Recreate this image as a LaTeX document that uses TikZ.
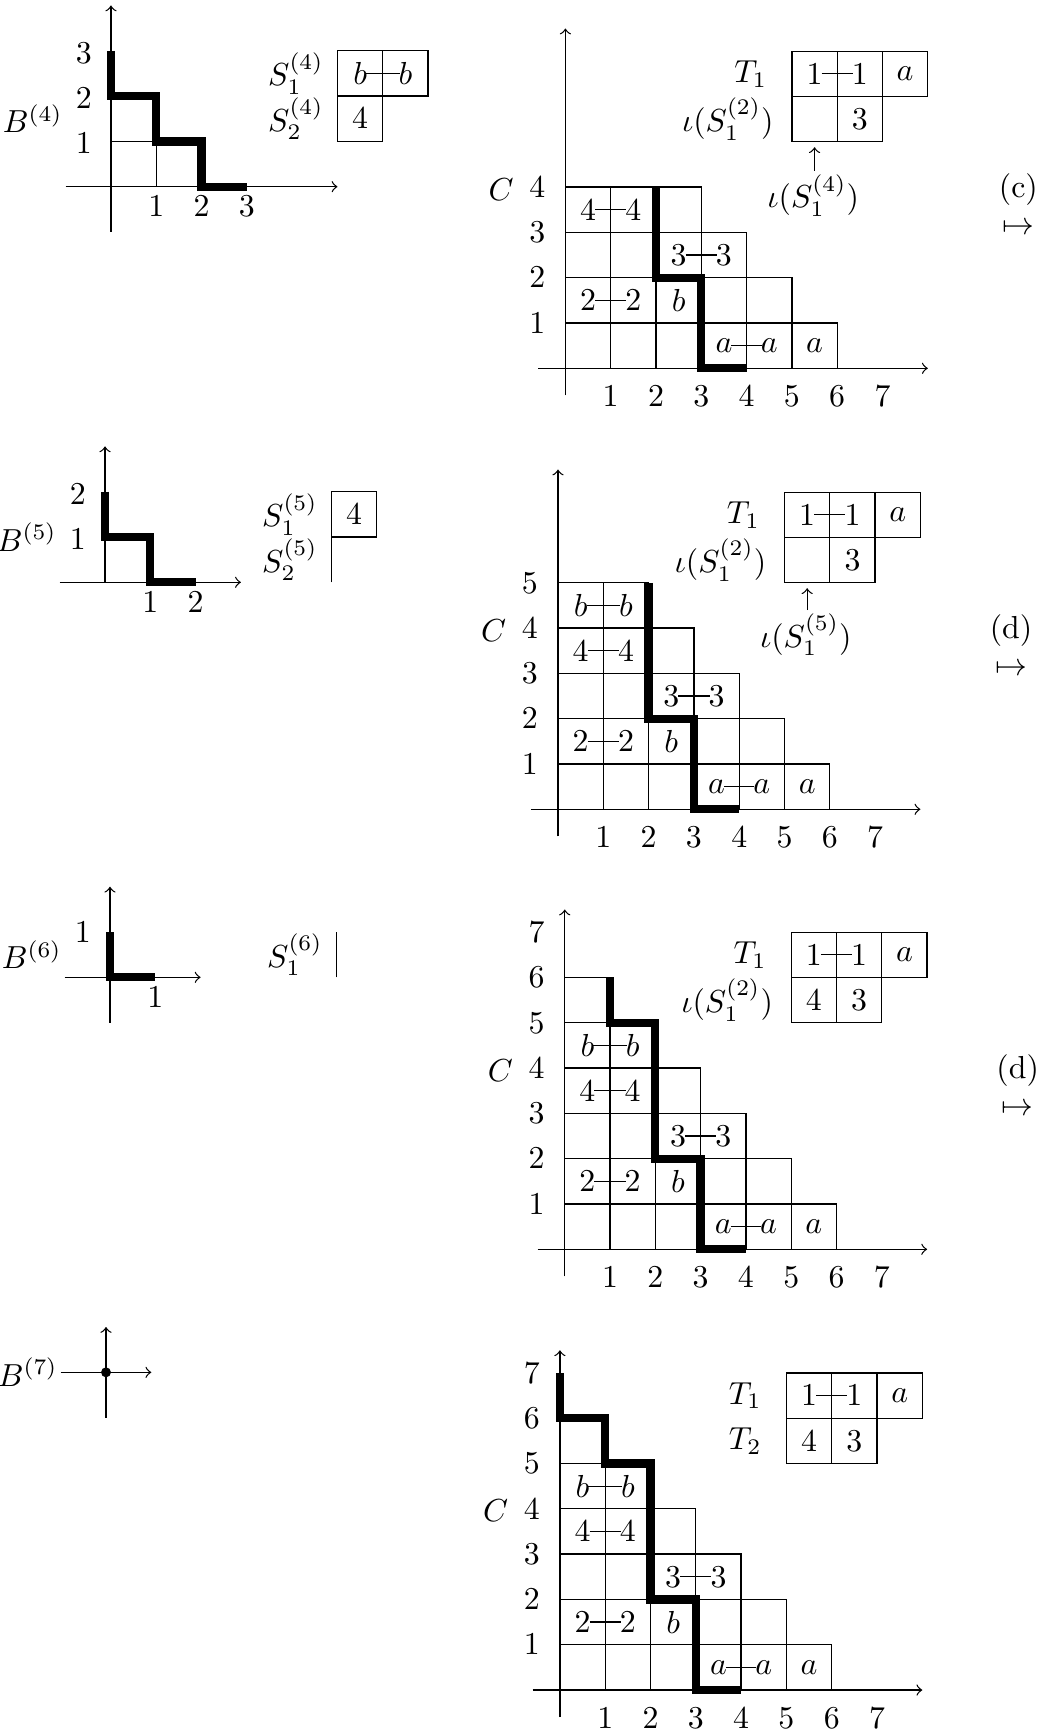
\documentclass[tikz,border=0pt]{standalone}
\usepackage{amsmath}
\tikzset{
  ax/.style={->, line width=0.4pt},
  stair/.style={line width=2.6pt},
  lab/.style={inner sep=0pt},
  link/.style={line width=0.4pt, shorten <=-0.5pt, shorten >=-0.5pt},
  uparrow/.style={->, line width=0.4pt, shorten <=1pt},
}
\newcommand\Row[2]{\foreach \c in {1,...,#2} {\draw (\c-1,#1) rectangle (\c,#1+1);}}
\newcommand\Cbody[1]{%
  \node[lab] (#1p1) at (0.5,3.5) {$4$};
  \node[lab] (#1p2) at (1.5,3.5) {$4$};
  \node[lab] (#1p3) at (2.5,2.5) {$3$};
  \node[lab] (#1p4) at (3.5,2.5) {$3$};
  \node[lab] (#1p5) at (0.5,1.5) {$2$};
  \node[lab] (#1p6) at (1.5,1.5) {$2$};
  \node[lab] (#1p7) at (2.5,1.5) {$b$};
  \node[lab] (#1p8) at (3.5,0.5) {$a$};
  \node[lab] (#1p9) at (4.5,0.5) {$a$};
  \node[lab] (#1p10) at (5.5,0.5) {$a$};
  \draw[link] (#1p1) -- (#1p2);
  \draw[link] (#1p3) -- (#1p4);
  \draw[link] (#1p5) -- (#1p6);
  \draw[link] (#1p8) -- (#1p9);
  \foreach \k in {1,...,7} {\node[lab] (#1x\k) at (\k,-0.62) {$\k$};}
  \node[lab] (#1C) at (-1.42,3.95) {$C$};
  \draw (5,6) rectangle (6,7) (6,6) rectangle (7,7) (7,6) rectangle (8,7)
        (5,5) rectangle (6,6) (6,5) rectangle (7,6);
  \node[lab] (#1t1) at (5.5,6.5) {$1$};
  \node[lab] (#1t2) at (6.5,6.5) {$1$};
  \node[lab] (#1t3) at (7.5,6.5) {$a$};
  \node[lab] (#1t4) at (6.5,5.5) {$3$};
  \draw[link] (#1t1) -- (#1t2);
  \node[lab,anchor=east] (#1T) at (4.47,6.5) {$T_1$};
}
\newcommand\Caxes{%
  \draw[ax] (0,-0.6) -- (0,7.5);
  \draw[ax] (-0.6,0) -- (8,0);
}
\begin{document}
\begin{tikzpicture}[x=0.5cm,y=0.5cm]
\useasboundingbox (0,0) rectangle (22.958,-38.256);

% ---------------- B4 ----------------
\begin{scope}[shift={(2.450,-4.121)}]
  \draw (0,1) -- (1,1) (1,0) -- (1,1);
  \draw[ax] (0,-1) -- (0,4);
  \draw[ax] (-1,0) -- (5,0);
  \draw[stair] (0,3) -- (0,2) -- (1,2) -- (1,1) -- (2,1) -- (2,0) -- (3,0);
  \foreach \k in {1,2,3} {
    \node[lab] (b4y\k) at (-0.6,\k-0.05) {$\k$};
    \node[lab] (b4x\k) at (\k,-0.44) {$\k$};
  }
  \node[lab,anchor=east] (B4) at (-1.05,1.5) {$B^{(4)}$};
  \draw (5,2) rectangle (6,3) (6,2) rectangle (7,3) (5,1) rectangle (6,2);
  \node[lab] (s4a) at (5.5,2.5) {$b$};
  \node[lab] (s4b) at (6.5,2.5) {$b$};
  \node[lab] (s4c) at (5.5,1.5) {$4$};
  \draw[link] (s4a) -- (s4b);
  \node[lab,anchor=east] (S41) at (4.71,2.5) {$S_1^{(4)}$};
  \node[lab,anchor=east] (S42) at (4.71,1.5) {$S_2^{(4)}$};
\end{scope}

% ---------------- C1 ----------------
\begin{scope}[shift={(12.481,-8.130)}]
  \Row{0}{6}\Row{1}{5}\Row{2}{4}\Row{3}{3}
  \Caxes
  \draw[stair] (2,4) -- (2,2) -- (3,2) -- (3,0) -- (4,0);
  \Cbody{ca}
  \foreach \k in {1,...,4} {\node[lab] (cay\k) at (-0.62,\k) {$\k$};}
  \node[lab,anchor=east] (caI) at (4.61,5.5) {$\iota(S_1^{(2)})$};
  \node[lab] (cai) at (5.47,3.82) {$\iota(S_1^{(4)})$};
  \coordinate (catb) at (5.5,4.88);
  \draw[uparrow] (cai.north -| catb) -- (catb);
  \node[lab] (calab) at (10,3.95) {(c)};
  \node[lab] (camap) at (10,3.08) {$\mapsto$};
\end{scope}

% ---------------- B5 ----------------
\begin{scope}[shift={(2.318,-12.854)}]
  \draw[ax] (0,0) -- (0,3);
  \draw[ax] (-1,0) -- (3,0);
  \draw[stair] (0,2) -- (0,1) -- (1,1) -- (1,0) -- (2,0);
  \foreach \k in {1,2} {
    \node[lab] (b5y\k) at (-0.6,\k-0.05) {$\k$};
    \node[lab] (b5x\k) at (\k,-0.44) {$\k$};
  }
  \node[lab,anchor=east] (B5) at (-1.05,1) {$B^{(5)}$};
  \draw (5,1) rectangle (6,2);
  \draw (5,0) -- (5,1);
  \node[lab] (s5a) at (5.5,1.5) {$4$};
  \node[lab,anchor=east] (S51) at (4.71,1.5) {$S_1^{(5)}$};
  \node[lab,anchor=east] (S52) at (4.71,0.5) {$S_2^{(5)}$};
\end{scope}

% ---------------- C2 ----------------
\begin{scope}[shift={(12.318,-17.865)}]
  \Row{0}{6}\Row{1}{5}\Row{2}{4}\Row{3}{3}\Row{4}{2}
  \Caxes
  \draw[stair] (2,5) -- (2,2) -- (3,2) -- (3,0) -- (4,0);
  \Cbody{cb}
  \node[lab] (cbq1) at (0.5,4.5) {$b$};
  \node[lab] (cbq2) at (1.5,4.5) {$b$};
  \draw[link] (cbq1) -- (cbq2);
  \foreach \k in {1,...,5} {\node[lab] (cby\k) at (-0.62,\k) {$\k$};}
  \node[lab,anchor=east] (cbI) at (4.61,5.5) {$\iota(S_1^{(2)})$};
  \node[lab] (cbi) at (5.47,3.85) {$\iota(S_1^{(5)})$};
  \coordinate (cbtb) at (5.5,4.88);
  \draw[uparrow] (cbi.north -| cbtb) -- (cbtb);
  \node[lab] (cblab) at (10,3.95) {(d)};
  \node[lab] (cbmap) at (10,3.08) {$\mapsto$};
\end{scope}

% ---------------- B6 ----------------
\begin{scope}[shift={(2.428,-21.574)}]
  \draw[ax] (0,-1) -- (0,2);
  \draw[ax] (-1,0) -- (2,0);
  \draw[stair] (0,1) -- (0,0) -- (1,0);
  \node[lab] (b6y1) at (-0.6,1) {$1$};
  \node[lab] (b6x1) at (1,-0.44) {$1$};
  \node[lab,anchor=east] (B6) at (-1.05,0.5) {$B^{(6)}$};
  \draw (5,0) -- (5,1);
  \node[lab,anchor=east] (S61) at (4.71,0.5) {$S_1^{(6)}$};
\end{scope}

% ---------------- C3 ----------------
\begin{scope}[shift={(12.466,-27.578)}]
  \Row{0}{6}\Row{1}{5}\Row{2}{4}\Row{3}{3}\Row{4}{2}\Row{5}{1}
  \Caxes
  \draw[stair] (1,6) -- (1,5) -- (2,5) -- (2,2) -- (3,2) -- (3,0) -- (4,0);
  \Cbody{cc}
  \node[lab] (ccq1) at (0.5,4.5) {$b$};
  \node[lab] (ccq2) at (1.5,4.5) {$b$};
  \draw[link] (ccq1) -- (ccq2);
  \node[lab] (cct5) at (5.5,5.5) {$4$};
  \foreach \k in {1,...,7} {\node[lab] (ccy\k) at (-0.62,\k) {$\k$};}
  \node[lab,anchor=east] (ccI) at (4.61,5.5) {$\iota(S_1^{(2)})$};
  \node[lab] (cclab) at (10,3.95) {(d)};
  \node[lab] (ccmap) at (10,3.08) {$\mapsto$};
\end{scope}

% ---------------- B7 ----------------
\begin{scope}[shift={(2.340,-30.294)}]
  \draw[ax] (0,-1) -- (0,1);
  \draw[ax] (-1,0) -- (1,0);
  \fill (0,0) circle (0.11);
  \node[lab,anchor=east] (B7) at (-1.05,0) {$B^{(7)}$};
\end{scope}

% ---------------- C4 ----------------
\begin{scope}[shift={(12.360,-37.307)}]
  \Row{0}{6}\Row{1}{5}\Row{2}{4}\Row{3}{3}\Row{4}{2}\Row{5}{1}
  \Caxes
  \draw[stair] (0,7) -- (0,6) -- (1,6) -- (1,5) -- (2,5) -- (2,2) -- (3,2) -- (3,0) -- (4,0);
  \Cbody{cd}
  \node[lab] (cdq1) at (0.5,4.5) {$b$};
  \node[lab] (cdq2) at (1.5,4.5) {$b$};
  \draw[link] (cdq1) -- (cdq2);
  \node[lab] (cdt5) at (5.5,5.5) {$4$};
  \foreach \k in {1,...,7} {\node[lab] (cdy\k) at (-0.62,\k) {$\k$};}
  \node[lab,anchor=east] (cdT2) at (4.47,5.5) {$T_2$};
\end{scope}

\end{tikzpicture}
\end{document}
